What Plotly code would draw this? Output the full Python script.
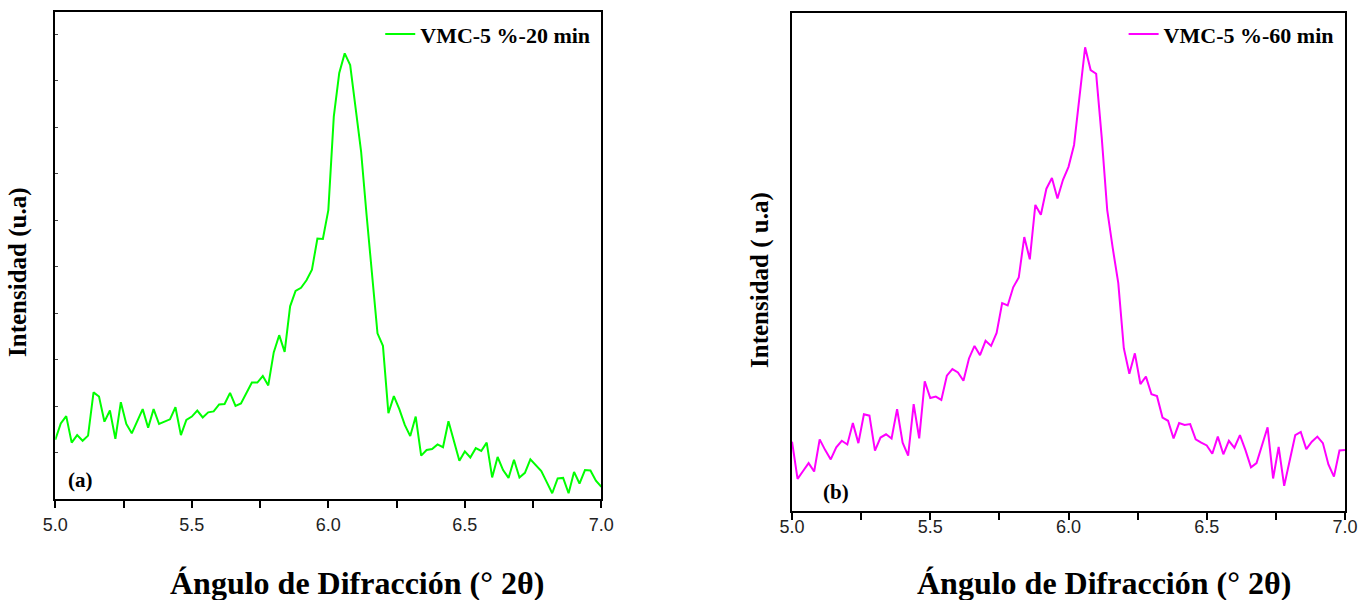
import plotly.graph_objects as go

# 2-theta angle (deg), step 0.02 from 5.00 to 7.00
angle = [round(5.0 + 0.02 * i, 2) for i in range(101)]

# Intensity (arbitrary units) - VMC-5 %-20 min
int_20 = [1.28, 1.63, 1.79, 1.22, 1.38, 1.26, 1.37, 2.30, 2.21, 1.67,
          1.91, 1.30, 2.09, 1.62, 1.42, 1.67, 1.94, 1.54, 1.94, 1.62,
          1.67, 1.72, 1.98, 1.38, 1.71, 1.78, 1.91, 1.76, 1.87, 1.89,
          2.04, 2.05, 2.29, 2.01, 2.06, 2.28, 2.51, 2.51, 2.65, 2.45,
          3.16, 3.53, 3.17, 4.15, 4.48, 4.55, 4.71, 4.94, 5.61, 5.60,
          6.22, 8.23, 9.17, 9.59, 9.34, 8.41, 7.48, 6.12, 4.85, 3.57,
          3.30, 1.85, 2.22, 1.94, 1.60, 1.36, 1.78, 0.94, 1.06, 1.08,
          1.18, 1.12, 1.68, 1.28, 0.83, 1.03, 0.90, 1.10, 1.04, 1.22,
          0.47, 0.91, 0.63, 0.46, 0.85, 0.47, 0.57, 0.86, 0.74, 0.61,
          0.37, 0.13, 0.45, 0.46, 0.13, 0.59, 0.34, 0.63, 0.62, 0.40,
          0.27]

# Intensity (arbitrary units) - VMC-5 %-60 min
int_60 = [1.49, 0.69, 0.86, 1.03, 0.85, 1.54, 1.31, 1.11, 1.37, 1.51,
          1.43, 1.89, 1.46, 2.08, 2.05, 1.30, 1.58, 1.65, 1.56, 2.19,
          1.47, 1.19, 2.30, 1.56, 2.79, 2.43, 2.46, 2.39, 2.91, 3.05,
          2.98, 2.80, 3.28, 3.55, 3.35, 3.66, 3.55, 3.83, 4.47, 4.42,
          4.81, 5.02, 5.89, 5.41, 6.58, 6.37, 6.93, 7.16, 6.72, 7.12,
          7.40, 7.87, 8.92, 9.97, 9.48, 9.40, 8.04, 6.47, 5.65, 4.90,
          3.50, 2.95, 3.39, 2.73, 2.89, 2.51, 2.47, 2.01, 1.94, 1.56,
          1.89, 1.85, 1.87, 1.54, 1.47, 1.41, 1.23, 1.60, 1.22, 1.51,
          1.36, 1.63, 1.31, 0.94, 1.03, 1.40, 1.80, 0.70, 1.38, 0.54,
          1.10, 1.63, 1.70, 1.33, 1.49, 1.60, 1.46, 1.00, 0.74, 1.30,
          1.31]

x_ticks = [5.0, 5.5, 6.0, 6.5, 7.0]
x_ticktext = ["5.0", "5.5", "6.0", "6.5", "7.0"]

SERIF = "Liberation Serif"

fig = go.Figure()
fig.add_trace(go.Scatter(x=angle, y=int_20, mode="lines", name="VMC-5 %-20 min",
                         line=dict(color="#00FF00", width=2),
                         xaxis="x", yaxis="y", legend="legend"))
fig.add_trace(go.Scatter(x=angle, y=int_60, mode="lines", name="VMC-5 %-60 min",
                         line=dict(color="#FF00FF", width=2),
                         xaxis="x2", yaxis="y2", legend="legend2"))

xcommon = dict(range=[5.0, 7.0], tickvals=x_ticks, ticktext=x_ticktext,
               ticks="outside", ticklen=7, tickwidth=1.5, tickcolor="black",
               minor=dict(dtick=0.25, tick0=5.0, ticks="outside", ticklen=7,
                          tickwidth=1.5, tickcolor="black"),
               showline=True, linecolor="black", linewidth=2, mirror=True,
               showgrid=False, zeroline=False, automargin=False,
               tickfont=dict(family="Liberation Sans", size=18, color="#222"))

fig.update_layout(
    template="none",
    width=1359, height=600, autosize=False,
    margin=dict(l=0, r=0, t=0, b=0, pad=0),
    paper_bgcolor="white", plot_bgcolor="white",
    showlegend=True,
    xaxis=dict(domain=[0.0407, 0.4425], anchor="y", ticklabelstandoff=1, **xcommon),
    yaxis=dict(domain=[0.1678, 0.98], anchor="x", range=[0, 10.48],
               dtick=1, tick0=0, ticks="inside", ticklen=3, tickwidth=1,
               tickcolor="#444", showticklabels=False, automargin=False,
               showline=True, linecolor="black", linewidth=2, mirror=True,
               showgrid=False, zeroline=False),
    xaxis2=dict(domain=[0.5828, 0.9897], anchor="y2", ticklabelstandoff=-9, **xcommon),
    yaxis2=dict(domain=[0.1483, 0.9778], anchor="x2", range=[0, 10.70],
                ticks="", showticklabels=False, automargin=False,
                showline=True, linecolor="black", linewidth=2, mirror=True,
                showgrid=False, zeroline=False),
    legend=dict(x=0.438, y=0.978, xanchor="right", yanchor="top",
                bgcolor="rgba(0,0,0,0)",
                font=dict(family=SERIF, size=22, color="black", weight="bold")),
    legend2=dict(x=0.985, y=0.978, xanchor="right", yanchor="top",
                 bgcolor="rgba(0,0,0,0)",
                 font=dict(family=SERIF, size=22, color="black", weight="bold")),
    annotations=[
        dict(text="<b>(a)</b>", x=0.02, y=0.01, xref="x domain", yref="y domain",
             xanchor="left", yanchor="bottom", showarrow=False,
             font=dict(family=SERIF, size=21, color="black")),
        dict(text="<b>(b)</b>", x=0.052, y=0.01, xref="x2 domain", yref="y2 domain",
             xanchor="left", yanchor="bottom", showarrow=False,
             font=dict(family=SERIF, size=21, color="black")),
        dict(text="<b>Ángulo de Difracción (° 2θ)</b>", x=357 / 1359, y=1 - 583 / 600,
             xref="paper", yref="paper", xanchor="center", yanchor="middle",
             showarrow=False, font=dict(family=SERIF, size=32, color="black")),
        dict(text="<b>Ángulo de Difracción (° 2θ)</b>", x=1104 / 1359, y=1 - 583 / 600,
             xref="paper", yref="paper", xanchor="center", yanchor="middle",
             showarrow=False, font=dict(family=SERIF, size=32, color="black")),
        dict(text="<b>Intensidad (u.a)</b>", x=18 / 1359, y=1 - 272 / 600,
             xref="paper", yref="paper", xanchor="center", yanchor="middle",
             textangle=-90, showarrow=False,
             font=dict(family=SERIF, size=25, color="black")),
        dict(text="<b>Intensidad ( u.a)</b>", x=760 / 1359, y=1 - 280 / 600,
             xref="paper", yref="paper", xanchor="center", yanchor="middle",
             textangle=-90, showarrow=False,
             font=dict(family=SERIF, size=25, color="black")),
    ],
)

fig.write_html("out.html")
